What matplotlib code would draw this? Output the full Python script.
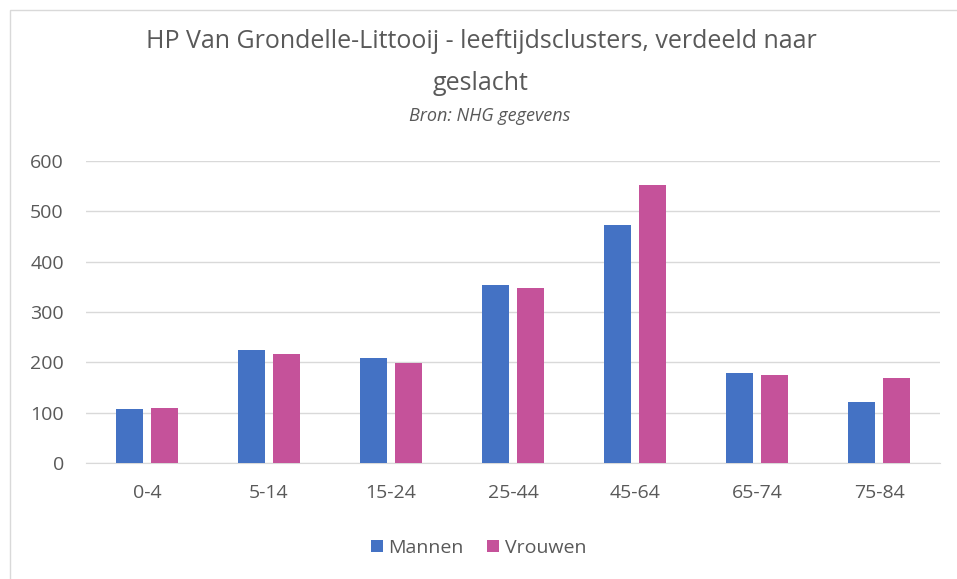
import matplotlib.pyplot as plt
import numpy as np

# leeftijdsclusters en aantallen per geslacht
categories = ["0-4", "5-14", "15-24", "25-44", "45-64", "65-74", "75-84"]
mannen = [107, 225, 209, 354, 472, 179, 121]
vrouwen = [109, 217, 199, 347, 553, 175, 168]
yticks = [0, 100, 200, 300, 400, 500, 600]

blue = "#4472C4"
pink = "#C5529A"
grey = "#595959"

plt.rcParams["font.family"] = ["Open Sans", "DejaVu Sans"]

fig = plt.figure(figsize=(9.57, 5.79), dpi=100)
ax = fig.add_axes([86 / 957, 1 - 463 / 579, (940 - 86) / 957, (463 - 161) / 579])

x = np.arange(len(categories))
w = 0.225
off = 0.143
ax.bar(x - off, mannen, w, color=blue, label="Mannen", zorder=3)
ax.bar(x + off, vrouwen, w, color=pink, label="Vrouwen", zorder=3)

ax.set_xlim(-0.5, len(categories) - 0.5)
ax.set_ylim(0, 600)
ax.set_yticks(yticks)
ax.set_xticks(x)
ax.set_xticklabels(categories)
ax.grid(axis="y", color="#D9D9D9", linewidth=1, zorder=0)
for s in ax.spines.values():
    s.set_visible(False)
ax.spines["bottom"].set_visible(True)
ax.spines["bottom"].set_color("#D9D9D9")
ax.tick_params(length=0, labelsize=14, colors=grey)
ax.tick_params(axis="x", pad=15)
ax.tick_params(axis="y", pad=16)

# titel en bron
fig.text(481 / 957, 1 - 42 / 579, "HP Van Grondelle-Littooij - leeftijdsclusters, verdeeld naar",
         ha="center", va="center", fontsize=18, color=grey)
fig.text(481 / 957, 1 - 84 / 579, "geslacht", ha="center", va="center", fontsize=18, color=grey)
fig.text(490 / 957, 1 - 116 / 579, "Bron: NHG gegevens", ha="center", va="center",
         fontsize=13, style="italic", color=grey)

# rand van de grafiek
fig.add_artist(plt.Rectangle((10 / 957, -0.05), 1.1, 1 - 10 / 579 + 0.05,
                             transform=fig.transFigure, fill=False,
                             edgecolor="#D9D9D9", linewidth=1))

fig.legend(loc="center", bbox_to_anchor=(0.5, 1 - 548 / 579), ncol=2, frameon=False,
           fontsize=14, labelcolor=grey, handlelength=0.6, handleheight=0.6,
           handletextpad=0.3, columnspacing=1.2)

fig.savefig("out.png", dpi=100)
